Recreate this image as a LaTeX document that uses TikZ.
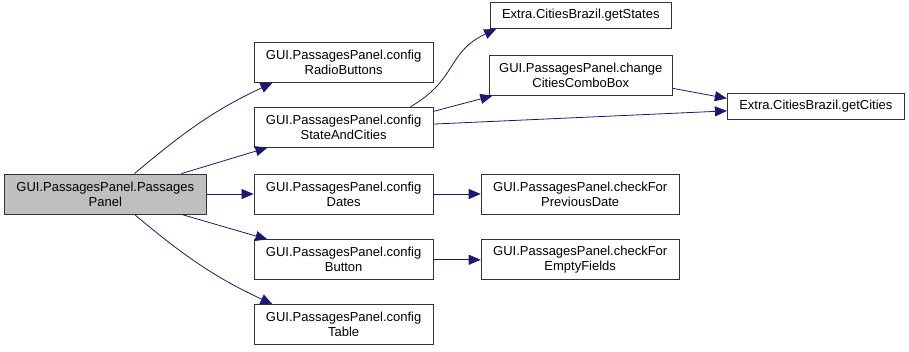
\documentclass[tikz,border=0pt]{standalone}
\usepackage{fontspec}
\setmainfont{Liberation Sans}
\usepackage{tikz}
\usetikzlibrary{arrows.meta,positioning}
\definecolor{callblue}{RGB}{25,25,112}
\definecolor{rootgray}{RGB}{191,191,191}
\tikzset{
  funcbox/.style={
    draw=black!80,line width=0.8pt,align=center,minimum height=40pt,
    inner xsep=12pt,inner ysep=2pt,font=\fontsize{13pt}{15pt}\selectfont
  },
  leafbox/.style={funcbox,minimum height=26pt},
  rootbox/.style={funcbox,fill=rootgray},
  callarrow/.style={-{Triangle[length=12pt,width=10pt]},line width=0.8pt,draw=callblue}
}

\begin{document}
\begin{tikzpicture}[node distance=25pt and 47pt]
  \useasboundingbox (0,0) rectangle (909pt,-351pt);
  \node[rootbox,anchor=west] (root) at (4pt,-194pt) {GUI.PassagesPanel.Passages\\Panel};
  \node[funcbox,right=of root] (dates) {GUI.PassagesPanel.config\\Dates};
  \node[funcbox,above=26pt of dates] (states) {GUI.PassagesPanel.config\\StateAndCities};
  \node[funcbox,above=24pt of states] (radio) {GUI.PassagesPanel.config\\RadioButtons};
  \node[funcbox,below=of dates] (button) {GUI.PassagesPanel.config\\Button};
  \node[funcbox,below=24pt of button] (table) {GUI.PassagesPanel.config\\Table};
  \node[funcbox,right=of dates] (prevdate) {GUI.PassagesPanel.checkFor\\PreviousDate};
  \node[funcbox,right=of button] (emptyfields) {GUI.PassagesPanel.checkFor\\EmptyFields};
  \node[funcbox,inner xsep=10pt,above right=11pt and 55pt of states] (combo) {GUI.PassagesPanel.change\\CitiesComboBox};
  \node[leafbox,above=26pt of combo] (getstates) {Extra.CitiesBrazil.getStates};
  \node[leafbox,below right=-3pt and 54pt of combo] (getcities) {Extra.CitiesBrazil.getCities};
  % calls out of the constructor
  \draw[callarrow] (root.35) to[out=40,in=205] (radio.196);
  \draw[callarrow] (root.15) -- (states.195);
  \draw[callarrow] (root) -- (dates);
  \draw[callarrow] (root.-15) -- (button.165);
  \draw[callarrow] (root.-35) to[out=-40,in=155] (table.164);
  % second level
  \draw[callarrow] (states.17) to[out=30,in=205,looseness=1.2] (getstates.189);
  \draw[callarrow] (states.10) -- (combo.193);
  \draw[callarrow] (states.2) -- (getcities.183);
  \draw[callarrow] (combo.-8) -- (getcities.175);
  \draw[callarrow] (dates) -- (prevdate);
  \draw[callarrow] (button) -- (emptyfields);
\end{tikzpicture}
\end{document}
